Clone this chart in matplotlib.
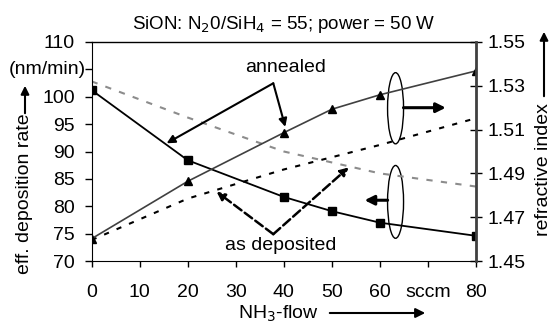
import numpy as np
import matplotlib.pyplot as plt
from matplotlib.patches import Ellipse, FancyArrowPatch

plt.rcParams['font.family'] = ['Liberation Sans', 'DejaVu Sans']

# NH3 flow (sccm)
flow = [0, 20, 40, 50, 60, 80]
rate_annealed = [101.2, 88.4, 81.7, 79.1, 77.0, 74.6]
ri_annealed = [1.4602, 1.4864, 1.5086, 1.5193, 1.5259, 1.5368]

flow_dep = [0, 20, 40, 60, 80]
rate_deposited = [102.8, 96.2, 90.0, 86.0, 83.6]
ri_deposited = [1.4596, 1.4785, 1.4918, 1.5030, 1.5152]

xticks = [0, 10, 20, 30, 40, 50, 60, 70, 80]
xticklabels = ['0', '10', '20', '30', '40', '50', '60', 'sccm', '80']
yticks = [70, 75, 80, 85, 90, 95, 100, 105, 110]
ri_ticks = [1.45, 1.47, 1.49, 1.51, 1.53, 1.55]

FS = 14

fig = plt.figure(figsize=(5.5, 3.24), dpi=100)
ax = fig.add_axes([0.1667, 0.1944, 0.6988, 0.676])
ax2 = ax.twinx()

ax.plot(flow_dep, rate_deposited, color='#8c8c8c', lw=1.5, ls=(0, (3, 4)))
ax.plot(flow, rate_annealed, color='black', lw=1.3, marker='s', ms=6)
ax2.plot(flow_dep, ri_deposited, color='black', lw=1.5, ls=(0, (2.5, 4)))
ax2.plot(flow, ri_annealed, color='#404040', lw=1.2, marker='^', ms=6, mfc='black', mec='black')

ax.set_xlim(0, 80)
ax.set_ylim(70, 110)
ax2.set_ylim(1.45, 1.55)
ax.set_xticks(xticks)
ax.set_xticklabels(xticklabels)
ax.set_yticks(yticks)
ax.set_yticklabels([str(v) if v != 105 else '' for v in yticks])
ax2.set_yticks(ri_ticks)
ax2.set_yticklabels(['%.2f' % v for v in ri_ticks])

ax.tick_params(axis='y', labelsize=FS, direction='out', length=5, width=1, pad=7)
ax.tick_params(axis='x', labelsize=FS, direction='out', length=4.5, width=1, pad=12)
ax2.tick_params(axis='y', labelsize=FS, direction='inout', length=8.4, width=1, pad=4)
ax.spines['right'].set_visible(False)
for s in ['left', 'top', 'bottom']:
    ax2.spines[s].set_visible(False)
ax2.spines['right'].set_linewidth(2)
ax2.spines['right'].set_color('#404040')
ax.spines['top'].set_linewidth(1)

ax.set_title('SiON: N$_2$0/SiH$_4$ = 55; power = 50 W', fontsize=13.5, pad=9)

# axis labels with arrows
fig.text(25 / 550, 1 - 194 / 324, 'eff. deposition rate', rotation=90,
         ha='center', va='center', fontsize=FS)
fig.patches.append(FancyArrowPatch(
    (25 / 550, 1 - 116 / 324), (25 / 550, 1 - 83 / 324), transform=fig.transFigure,
    arrowstyle='-|>', mutation_scale=12, lw=1.5, color='black'))
fig.text(47 / 550, 1 - 70 / 324, '(nm/min)', ha='center', va='center', fontsize=FS)

fig.text(543 / 550, 1 - 170 / 324, 'refractive index', rotation=90,
         ha='center', va='center', fontsize=FS)
fig.patches.append(FancyArrowPatch(
    (544 / 550, 1 - 99 / 324), (544 / 550, 1 - 29 / 324), transform=fig.transFigure,
    arrowstyle='-|>', mutation_scale=12, lw=1.5, color='black'))

fig.text(278 / 550, 1 - 318.5 / 324, 'NH$_3$-flow', ha='center', va='baseline', fontsize=FS)
fig.patches.append(FancyArrowPatch(
    (327 / 550, 1 - 313 / 324), (428 / 550, 1 - 313 / 324), transform=fig.transFigure,
    arrowstyle='-|>', mutation_scale=14, lw=1.5, color='black'))

# annotations
ax.text(40.4, 104.6, 'annealed', ha='center', va='baseline', fontsize=FS)
ax.text(39.4, 72.1, 'as deposited', ha='center', va='baseline', fontsize=FS)
solid = dict(arrowstyle='-|>', lw=1.5, color='black', mutation_scale=12, shrinkA=0, shrinkB=0)
dashed = dict(arrowstyle='-|>', lw=1.8, color='black', ls='--', mutation_scale=12, shrinkA=0, shrinkB=0)
ax.annotate('', xy=(15.6, 91.5), xytext=(37.8, 102.46), arrowprops=solid)
ax.annotate('', xy=(40.3, 94.5), xytext=(37.8, 102.46), arrowprops=solid)
ax.annotate('', xy=(26.0, 82.66), xytext=(37.8, 74.9), arrowprops=dashed)
ax.annotate('', xy=(53.5, 87.1), xytext=(37.8, 74.9), arrowprops=dashed)

ax.add_patch(Ellipse((63.25, 97.9), 3.33, 13.0, fill=False, lw=1, ec='black'))
ax.add_patch(Ellipse((63.25, 80.8), 3.33, 13.3, fill=False, lw=1, ec='black'))
ax.annotate('', xy=(73.7, 98.0), xytext=(64.9, 98.0), arrowprops=dict(solid, lw=2.2, mutation_scale=14))
ax.annotate('', xy=(56.8, 81.1), xytext=(61.6, 81.1), arrowprops=dict(solid, lw=2.2, mutation_scale=14))

fig.savefig('out.png', dpi=100)
